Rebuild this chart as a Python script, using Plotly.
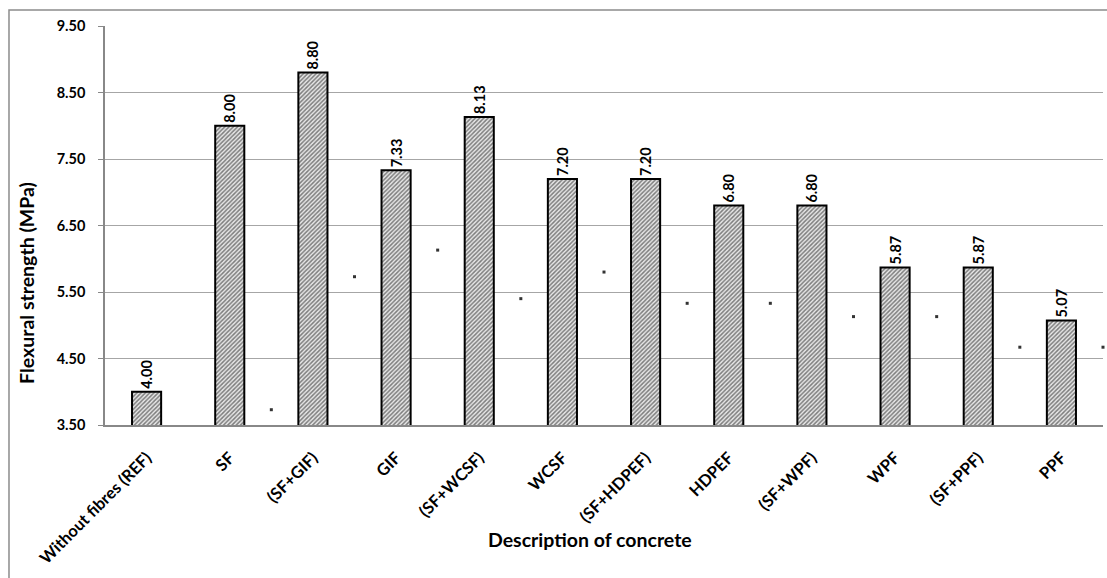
import plotly.graph_objects as go

# Flexural strength of concrete mixes (MPa)
categories = [
    "Without fibres (REF)", "SF", "(SF+GIF)", "GIF", "(SF+WCSF)", "WCSF",
    "(SF+HDPEF)", "HDPEF", "(SF+WPF)", "WPF", "(SF+PPF)", "PPF",
]
flexural = [4.00, 8.00, 8.80, 7.33, 8.13, 7.20, 7.20, 6.80, 6.80, 5.87, 5.87, 5.07]

# Secondary point series plotted in the gaps after each mix from SF onwards
gap_values = [3.73, 5.73, 6.13, 5.40, 5.80, 5.33, 5.33, 5.13, 5.13, 4.67, 4.67]

y_ticks = [3.5, 4.5, 5.5, 6.5, 7.5, 8.5, 9.5]

FONT = "Lato, 'Open Sans', sans-serif"

x_idx = list(range(len(categories)))
gap_x = [i + 1.5 for i in range(len(gap_values))]

fig = go.Figure()

fig.add_trace(go.Bar(
    x=x_idx,
    y=flexural,
    width=0.35,
    marker=dict(
        color="white",
        line=dict(color="black", width=2),
        pattern=dict(shape="/", fgcolor="#111111", bgcolor="#e8e8e8",
                     size=3, solidity=0.5),
    ),
    text=[f"{v:.2f}" for v in flexural],
    textposition="outside",
    textangle=-90,
    textfont=dict(family=FONT, size=14.5, color="black", weight="bold"),
    cliponaxis=False,
    showlegend=False,
))

fig.add_trace(go.Scatter(
    x=gap_x,
    y=gap_values,
    mode="markers",
    marker=dict(symbol="square", size=3, color="#333333", line=dict(width=0)),
    cliponaxis=False,
    showlegend=False,
))

fig.update_layout(
    width=1107,
    height=578,
    margin=dict(l=105, r=4, t=26, b=153),
    paper_bgcolor="white",
    plot_bgcolor="white",
    hovermode=False,
    font=dict(family=FONT, color="black"),
    xaxis=dict(
        range=[-0.5, len(categories) - 0.5],
        tickmode="array",
        tickvals=x_idx,
        ticktext=categories,
        tickangle=-45,
        tickfont=dict(family=FONT, size=16.5, color="black", weight="bold"),
        showgrid=False,
        showline=True,
        linecolor="#888888",
        linewidth=1.5,
        ticks="",
        ticklabelstandoff=15,
        zeroline=False,
    ),
    yaxis=dict(
        range=[3.5, 9.5],
        tickmode="array",
        tickvals=y_ticks,
        ticktext=[f"{v:.2f}" for v in y_ticks],
        tickfont=dict(family=FONT, size=14.5, color="black", weight="bold"),
        showgrid=True,
        gridcolor="#a6a6a6",
        gridwidth=1,
        showline=True,
        linecolor="#888888",
        linewidth=1.5,
        ticks="outside",
        ticklen=5,
        tickcolor="#888888",
        ticklabelstandoff=10,
        zeroline=False,
    ),
    annotations=[
        dict(
            text="Flexural strength (MPa)",
            xref="paper", yref="paper",
            x=-0.0782, y=0.356,
            xanchor="center", yanchor="middle",
            textangle=-90, showarrow=False,
            font=dict(family=FONT, size=19.5, color="black", weight="bold"),
        ),
        dict(
            text="Description of concrete",
            xref="paper", yref="paper",
            x=0.486, y=-0.288,
            xanchor="center", yanchor="middle",
            showarrow=False,
            font=dict(family=FONT, size=19.5, color="black", weight="bold"),
        ),
    ],
    shapes=[
        dict(
            type="rect", xref="paper", yref="paper",
            x0=-0.0962, x1=1.05, y0=-0.6, y1=1.0401,
            line=dict(color="#8c8c8c", width=1.5),
            fillcolor="rgba(0,0,0,0)",
            layer="below",
        ),
    ],
)

fig.write_html("out.html")
